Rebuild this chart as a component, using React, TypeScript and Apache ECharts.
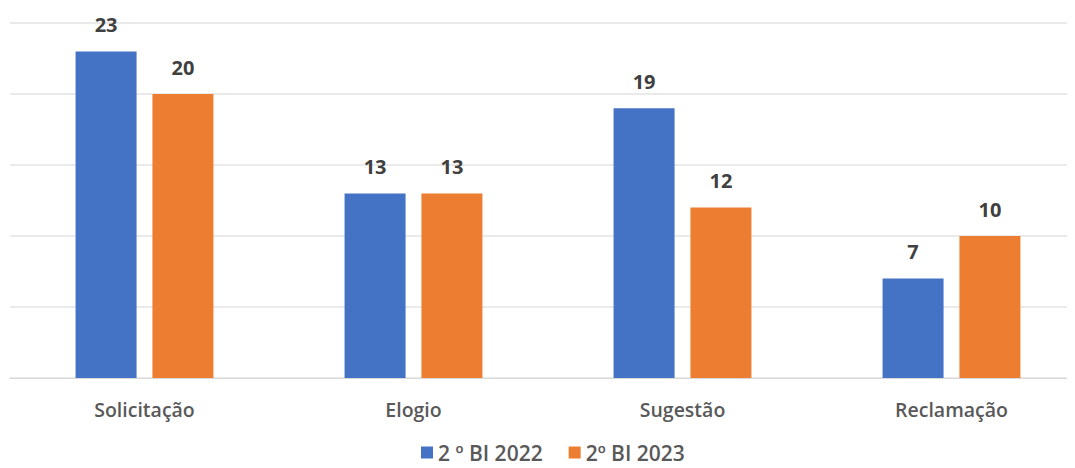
import React, { useEffect, useRef } from "react";
import * as echarts from "echarts";

const categories = ["Solicitação", "Elogio", "Sugestão", "Reclamação"];
const series2022 = [23, 13, 19, 7];
const series2023 = [20, 13, 12, 10];
const seriesNames = ["2 º BI 2022", "2º BI 2023"];

const FONT = "'Open Sans', sans-serif";

export default function App() {
  const ref = useRef<HTMLDivElement>(null);
  useEffect(() => {
    const chart = echarts.init(ref.current!, undefined, { renderer: "svg" });
    chart.setOption({
      animation: false,
      grid: { left: 10, right: 0, top: 23, bottom: 90, containLabel: false },
      legend: {
        top: 442,
        left: 416,
        padding: [0, 5, 0, 5],
        itemWidth: 12,
        itemHeight: 12,
        itemGap: 26,
        icon: "rect",
        textStyle: { fontFamily: FONT, fontSize: 21, lineHeight: 20, fontWeight: 600, color: "#595959" },
        data: seriesNames,
      },
      xAxis: {
        type: "category",
        data: categories,
        axisLine: { lineStyle: { color: "#d9d9d9" } },
        axisTick: { show: false },
        axisLabel: { fontFamily: FONT, fontSize: 19.5, fontWeight: 600, color: "#595959", margin: 21 },
      },
      yAxis: {
        type: "value",
        min: 0,
        max: 25,
        interval: 5,
        axisLabel: { show: false },
        axisLine: { show: false },
        axisTick: { show: false },
        splitLine: { lineStyle: { color: "#e3e3e3", width: 1.5 } },
      },
      series: [
        {
          name: seriesNames[0],
          type: "bar",
          data: series2022,
          barWidth: 61,
          barGap: "26%",
          itemStyle: { color: "#4472c4" },
          label: {
            show: true,
            position: "top",
            distance: 17,
            fontFamily: FONT,
            fontSize: 20,
            fontWeight: "bold",
            color: "#404040",
          },
        },
        {
          name: seriesNames[1],
          type: "bar",
          data: series2023,
          barWidth: 61,
          itemStyle: { color: "#ed7d31" },
          label: {
            show: true,
            position: "top",
            distance: 17,
            fontFamily: FONT,
            fontSize: 20,
            fontWeight: "bold",
            color: "#404040",
          },
        },
      ],
    });
    return () => chart.dispose();
  }, []);
  return (
    <div style={{ width: 1075, height: 468, margin: "-8px 0 0 -8px", overflow: "hidden" }}>
      <div ref={ref} style={{ width: 1086, height: 468 }} />
    </div>
  );
}
